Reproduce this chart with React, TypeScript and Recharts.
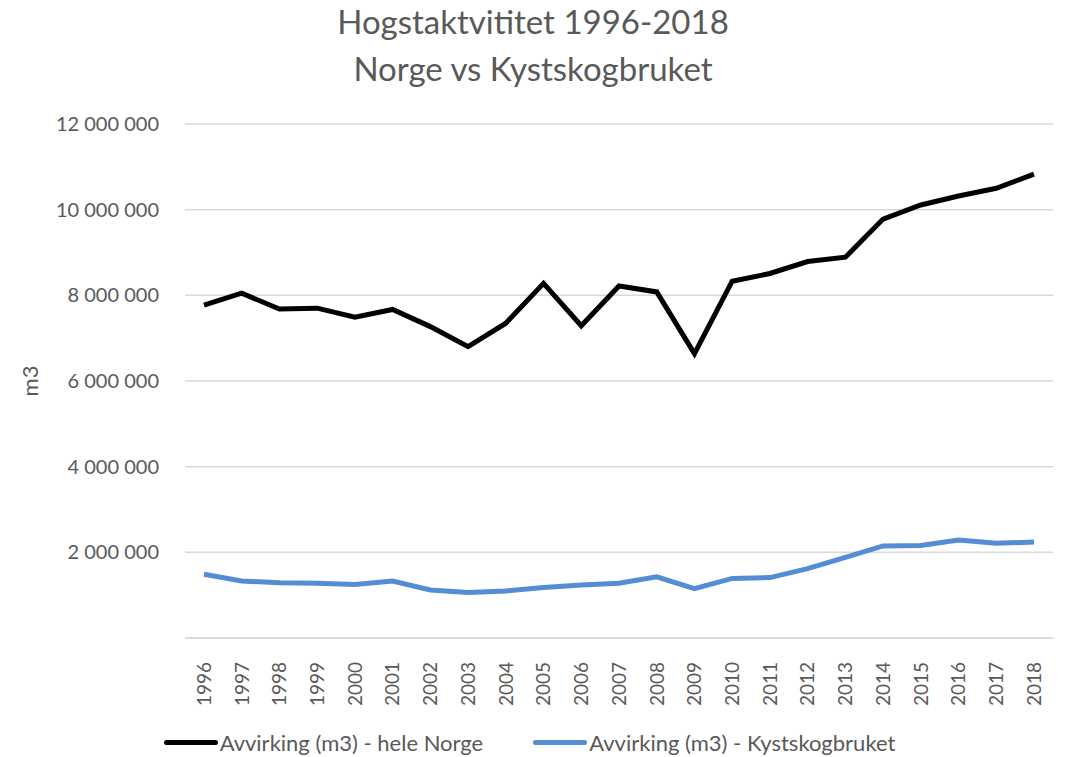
import React from "react";
import {
  LineChart,
  Line,
  XAxis,
  YAxis,
  CartesianGrid,
  Legend,
} from "recharts";

const years = [
  "1996", "1997", "1998", "1999", "2000", "2001", "2002", "2003",
  "2004", "2005", "2006", "2007", "2008", "2009", "2010", "2011",
  "2012", "2013", "2014", "2015", "2016", "2017", "2018",
];

const heleNorge = [
  7770000, 8050000, 7680000, 7700000, 7490000, 7670000, 7270000, 6800000,
  7350000, 8280000, 7290000, 8220000, 8080000, 6640000, 8330000, 8510000,
  8790000, 8890000, 9780000, 10110000, 10320000, 10500000, 10830000,
];

const kystskogbruket = [
  1490000, 1330000, 1290000, 1280000, 1250000, 1330000, 1120000, 1060000,
  1100000, 1180000, 1240000, 1280000, 1430000, 1150000, 1390000, 1410000,
  1620000, 1880000, 2150000, 2160000, 2290000, 2210000, 2240000,
];

const yTicks = [0, 2000000, 4000000, 6000000, 8000000, 10000000, 12000000];

const NORGE = "Avvirking (m3) - hele Norge";
const KYST = "Avvirking (m3) - Kystskogbruket";

const data = years.map((y, i) => ({
  year: y,
  norge: heleNorge[i],
  kyst: kystskogbruket[i],
}));

const FONT = "Lato, 'Open Sans', sans-serif";
const TEXT = "#595959";

const fmt = (v: number) =>
  v === 0 ? "" : String(v).replace(/\B(?=(\d{3})+(?!\d))/g, " ");

function YearTick(props: any) {
  const { x, y, payload } = props;
  return (
    <text
      x={x}
      y={y + 16}
      transform={`rotate(-90, ${x}, ${y + 16})`}
      textAnchor="end"
      dy="0.36em"
      fontSize={19}
      fill={TEXT}
      fontFamily={FONT}
    >
      {payload.value}
    </text>
  );
}

function LegendBox() {
  const items = [
    { label: NORGE, color: "#000000" },
    { label: KYST, color: "#548DD4" },
  ];
  return (
    <div
      style={{
        display: "flex",
        justifyContent: "center",
        gap: 50,
        fontFamily: FONT,
        fontSize: 22,
        color: TEXT,
        marginLeft: 6,
        marginTop: 8,
      }}
    >
      {items.map((it) => (
        <div key={it.label} style={{ display: "flex", alignItems: "center" }}>
          <div
            style={{
              width: 54,
              height: 5,
              borderRadius: 3,
              background: it.color,
              marginRight: 2,
            }}
          />
          <span>{it.label}</span>
        </div>
      ))}
    </div>
  );
}

export default function App() {
  return (
    <div style={{ position: "absolute", left: 0, top: 0, width: 1066, height: 757, background: "#fff" }}>
      <div
        style={{
          position: "absolute",
          left: 0,
          top: -2,
          width: 1066,
          textAlign: "center",
          fontFamily: FONT,
          fontSize: 33,
          lineHeight: "47px",
          color: TEXT,
          zIndex: 2,
        }}
      >
        Hogstaktvititet 1996-2018
        <br />
        Norge vs Kystskogbruket
      </div>
      <LineChart
        width={1066}
        height={757}
        data={data}
        margin={{ top: 124, right: 13, left: 0, bottom: 0 }}
      >
        <CartesianGrid stroke="#d9d9d9" strokeWidth={1.5} vertical={false} />
        <XAxis
          dataKey="year"
          padding={{ left: 19, right: 19 }}
          tick={<YearTick />}
          tickLine={false}
          axisLine={{ stroke: "#d9d9d9", strokeWidth: 1.5 }}
          height={83}
          interval={0}
        />
        <YAxis
          width={185}
          domain={[0, 12000000]}
          ticks={yTicks}
          tickFormatter={fmt}
          axisLine={false}
          tickLine={false}
          tickMargin={20}
          tick={{ fontSize: 20, fill: TEXT, fontFamily: FONT }}
          label={{
            value: "m3",
            angle: -90,
            position: "insideLeft",
            offset: 30,
            style: { fontSize: 22, fill: TEXT, fontFamily: FONT, textAnchor: "middle" },
          }}
        />
        <Legend
          verticalAlign="bottom"
          height={36}
          content={() => <LegendBox />}
        />
        <Line
          type="linear"
          dataKey="norge"
          name={NORGE}
          stroke="#000000"
          strokeWidth={5}
          dot={false}
          isAnimationActive={false}
        />
        <Line
          type="linear"
          dataKey="kyst"
          name={KYST}
          stroke="#548DD4"
          strokeWidth={5}
          dot={false}
          isAnimationActive={false}
        />
      </LineChart>
    </div>
  );
}
